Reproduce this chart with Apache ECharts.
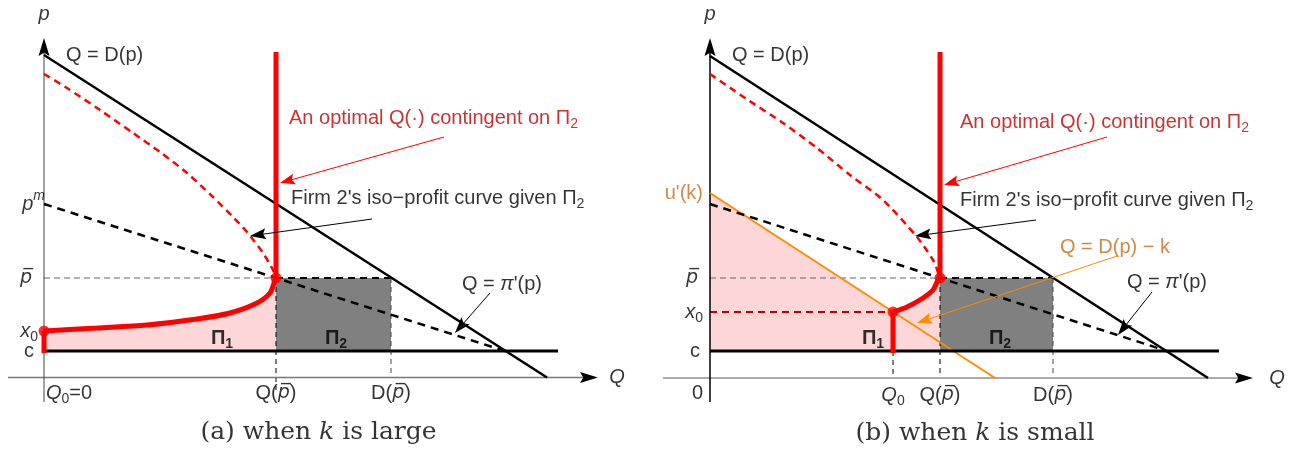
<!DOCTYPE html>
<html>
<head>
<meta charset="utf-8">
<script src="https://cdn.jsdelivr.net/npm/echarts@6/dist/echarts.min.js"></script>
<style>
  html, body { margin: 0; padding: 0; background: #fff; }
  #chart { width: 1305px; height: 452px; }
</style>
</head>
<body>
<div id="chart"></div>
<script>
// ---------- Panel (a): k is large ----------
const aDemand      = [[0, 6.45], [10.06, 0]];                 // Q = D(p)
const aMarginal    = [[0, 3.47], [9.22, 0.53]];               // Q = pi'(p)
const aCost        = [[0, 0.53], [10.28, 0.53]];              // unit cost c
const aIsoProfit   = [[0, 6.07], [0.46, 5.79], [1.12, 5.35], [1.78, 4.89], [2.32, 4.51], [2.86, 4.09],
                      [3.38, 3.61], [3.78, 3.21], [4.06, 2.91], [4.38, 2.49], [4.58, 2.15], [4.64, 1.99]];
const aOptimal     = [[0, 0.93], [1.06, 0.99], [2.06, 1.05], [3.06, 1.17], [3.72, 1.29],
                      [4.26, 1.49], [4.52, 1.69], [4.62, 1.95], [4.64, 1.99]];
const aOptimalTop  = [[4.64, 1.99], [4.64, 6.51]];
const aPriceLevels = [0.53, 0.93, 1.99, 3.47];                // c, x0, p-bar, p^m
const aQtyLevels   = [0, 4.64, 6.94];                         // Q0, Q(p-bar), D(p-bar)

// ---------- Panel (b): k is small ----------
const bDemand      = [[0, 6.44], [9.96, 0]];                  // Q = D(p)
const bShifted     = [[0, 3.70], [5.70, 0]];                  // Q = D(p) - k
const bMarginal    = [[0, 3.48], [9.14, 0.54]];               // Q = pi'(p)
const bCost        = [[0, 0.54], [10.18, 0.54]];
const bIsoProfit   = [[0, 6.08], [0.7, 5.6], [1.46, 5.10], [2.14, 4.6], [2.80, 4.06], [3.46, 3.56],
                      [4.14, 2.82], [4.46, 2.36], [4.58, 2.06], [4.60, 2.00]];
const bOptimal     = [[3.66, 1.32], [3.94, 1.42], [4.26, 1.60], [4.46, 1.76], [4.56, 1.96], [4.60, 2.00]];
const bOptimalTop  = [[4.60, 2.00], [4.60, 6.52]];
const bPriceLevels = [0.54, 1.32, 2.00, 3.70];                // c, x0, p-bar, u'(k)
const bQtyLevels   = [3.66, 4.60, 6.86];                      // Q0, Q(p-bar), D(p-bar)

// axis extents [xmin, xmax, ymin, ymax]
const aExtent = [-0.72, 11.08, -0.49, 6.79];
const bExtent = [-0.94, 10.86, -0.48, 6.80];

const SANS = 'Liberation Sans, Arial, Helvetica, sans-serif';
const SERIF = 'DejaVu Serif, serif';
const RED = '#ff0000', DARKRED = '#bb0000', ORANGE = '#ff8c00', ORANGE_TXT = '#c46c1c';
const PINK = '#fdd7d7', GREY = '#808080';

function richSet(size, color) {
  const s = Math.round(size * 0.68);
  return {
    n:    { color, fontFamily: SANS, fontSize: size },
    i:    { color, fontFamily: SANS, fontSize: size, fontStyle: 'italic' },
    ob:   { color, fontFamily: 'DejaVu Sans', fontSize: size - 1, fontStyle: 'italic' },
    b:    { color, fontFamily: SANS, fontSize: size, fontWeight: 'bold' },
    sub:  { color, fontFamily: SANS, fontSize: s, padding: [Math.round(size * 0.62), 0, 0, 0] },
    bsub: { color, fontFamily: SANS, fontSize: s, fontWeight: 'bold', padding: [Math.round(size * 0.62), 0, 0, 0] },
    sup:  { color, fontFamily: SANS, fontSize: s, fontStyle: 'italic', padding: [0, 0, Math.round(size * 0.75), 0] },
    c:    { color, fontFamily: SERIF, fontSize: 25 },
    ci:   { color, fontFamily: SERIF, fontSize: 25, fontStyle: 'italic' }
  };
}

function line(gi, data, color, width, type, z, smooth) {
  return {
    type: 'line', xAxisIndex: gi, yAxisIndex: gi, data, symbol: 'none', showSymbol: false,
    smooth: smooth || false, silent: true, clip: false, z: z || 3,
    lineStyle: { color, width, type: type || 'solid', cap: 'butt' }
  };
}

function polygon(gi, pts, fill, z) {
  return {
    type: 'custom', xAxisIndex: gi, yAxisIndex: gi, silent: true, clip: false, z: z || 1,
    data: [pts[0]],
    renderItem: (params, api) => ({
      type: 'polygon',
      shape: { points: pts.map(p => api.coord(p)) },
      style: { fill }
    })
  };
}

// arrows: list of [from, to] in data units; head drawn at "to"
function arrows(gi, list, color, width, headLen, headHalf, z, lineColor) {
  return {
    type: 'custom', xAxisIndex: gi, yAxisIndex: gi, silent: true, clip: false, z: z || 6,
    data: list.map(a => [a[0][0], a[0][1], a[1][0], a[1][1]]),
    encode: { x: [0, 2], y: [1, 3] },
    renderItem: (params, api) => {
      const s = api.coord([api.value(0), api.value(1)]);
      const e = api.coord([api.value(2), api.value(3)]);
      const dx = e[0] - s[0], dy = e[1] - s[1], L = Math.hypot(dx, dy);
      const ux = dx / L, uy = dy / L, nx = -uy, ny = ux;
      const bx = e[0] - ux * headLen, by = e[1] - uy * headLen;
      const notch = [e[0] - ux * headLen * 0.82, e[1] - uy * headLen * 0.82];
      return {
        type: 'group',
        children: [
          { type: 'line', shape: { x1: s[0], y1: s[1], x2: e[0] - ux * headLen * 0.7, y2: e[1] - uy * headLen * 0.7 },
            style: { stroke: lineColor || color, lineWidth: width } },
          { type: 'polygon', shape: { points: [e, [bx + nx * headHalf, by + ny * headHalf], notch, [bx - nx * headHalf, by - ny * headHalf]] },
            style: { fill: color } }
        ]
      };
    }
  };
}

function dots(gi, pts) {
  return {
    type: 'scatter', xAxisIndex: gi, yAxisIndex: gi, data: pts, symbolSize: 11, silent: true, clip: false, z: 5,
    itemStyle: { color: RED }
  };
}

function note(gi, pt, text, opt) {
  const o = Object.assign({ align: 'center', color: '#000' }, opt || {});
  return {
    type: 'scatter', xAxisIndex: gi, yAxisIndex: gi, data: [pt], symbolSize: 0, silent: true, clip: false, z: 8,
    itemStyle: { color: 'rgba(0,0,0,0)' },
    label: {
      show: true, position: 'inside', formatter: text, color: o.color, align: o.align,
      fontFamily: SANS, fontSize: 20, verticalAlign: 'middle', rich: richSet(20, o.color)
    }
  };
}

const PBAR = '{ob|p\u0305}';
const QPBAR = '{n|Q(}' + PBAR + '{n|)}';
const DPBAR = '{n|D(}' + PBAR + '{n|)}';

function axes(gi, ext, xColor, xWidth, yColor, yWidth) {
  return [
    arrows(gi, [[[ext[0], 0], [ext[1], 0]]], '#000', xWidth, 18, 5.5, 3, xColor),
    arrows(gi, [[[0, ext[2]], [0, ext[3]]]], '#000', yWidth, 18, 5.5, 3, yColor)
  ];
}

// ---------- Panel (a) series ----------
const [aC, aX0, aPbar, aPm] = aPriceLevels;
const [aQ0, aQpbar, aDpbar] = aQtyLevels;
const seriesA = [
  polygon(0, [[0, aC]].concat(aOptimal, [[aQpbar, aC]]), PINK, 1),
  polygon(0, [[aQpbar, aC], [aQpbar, aPbar], [aDpbar, aPbar], [aDpbar, aC]], GREY, 1),
  ...axes(0, aExtent, '#777', 1.3, '#444', 1),
  line(0, [[0, aPbar], [aQpbar, aPbar]], '#666', 1.2, [6, 4], 2),
  line(0, [[aQpbar, aPbar], [aDpbar, aPbar]], '#000', 2, [7, 5], 2),
  line(0, [[aQpbar, aPbar], [aQpbar, -0.25]], '#000', 1, [5, 4], 2),
  line(0, [[aDpbar, aPbar], [aDpbar, 0]], '#444', 1, [5, 4], 2),
  line(0, aDemand, '#000', 2.5),
  line(0, aMarginal, '#000', 2.5, [8, 6]),
  line(0, aIsoProfit, RED, 2.5, [7, 5], 3, 0.25),
  line(0, aCost, '#000', 3, 'solid', 4),
  line(0, aOptimal, RED, 5, 'solid', 4, 0.3),
  line(0, aOptimalTop, RED, 5, 'solid', 4),
  line(0, [[aQ0, aX0], [aQ0, aC - 0.04]], RED, 5, 'solid', 4),
  dots(0, [[aQ0, aX0], [aQpbar, aPbar]]),
  arrows(0, [[[8.0, 4.81], [4.72, 3.89]]], RED, 1, 15, 5.5, 6),
  arrows(0, [[[6.56, 3.17], [4.12, 2.83]], [[8.92, 1.69], [8.22, 0.89]]], '#000', 1, 16, 5.5, 6),
  note(0, [0, 7.27], '{i|p}'),
  note(0, [11.46, 0], '{i|Q}'),
  note(0, [0.44, 6.45], '{n|Q = D(p)}', { align: 'left' }),
  note(0, [4.9, 5.19], '{n|An optimal Q(·) contingent on Π}{sub|2}', { align: 'left', color: DARKRED }),
  note(0, [4.94, 3.59], '{n|Firm 2\'s iso\u2212profit curve given Π}{sub|2}', { align: 'left' }),
  note(0, [8.36, 1.87], '{n|Q = }{i|π}{n|\'(p)}', { align: 'left' }),
  note(0, [3.56, 0.79], '{b|Π}{bsub|1}'),
  note(0, [5.84, 0.79], '{b|Π}{bsub|2}'),
  note(0, [0.02, aPm], '{i|p}{sup|m}', { align: 'right' }),
  note(0, [-0.24, aPbar], PBAR, { align: 'right' }),
  note(0, [-0.12, aX0], '{i|x}{sub|0}', { align: 'right' }),
  note(0, [-0.2, aC], '{n|c}', { align: 'right' }),
  note(0, [aQ0 + 0.04, -0.31], '{i|Q}{sub|0}{n|=0}', { align: 'left' }),
  note(0, [aQpbar, -0.31], QPBAR),
  note(0, [aDpbar, -0.31], DPBAR),
  note(0, [5.49, -1.1], '{c|(a) when }{ci|k}{c| is large}')
];

// ---------- Panel (b) series ----------
const [bC, bX0, bPbar, bUk] = bPriceLevels;
const [bQ0, bQpbar, bDpbar] = bQtyLevels;
const seriesB = [
  polygon(1, [[0, bC], bShifted[0]].concat(bOptimal, [[bQpbar, bC]]), PINK, 1),
  polygon(1, [[bQpbar, bC], [bQpbar, bPbar], [bDpbar, bPbar], [bDpbar, bC]], GREY, 1),
  ...axes(1, bExtent, '#aaa', 2, '#000', 1.5),
  line(1, [[0, bPbar], [bQpbar, bPbar]], '#666', 1.2, [6, 4], 2),
  line(1, [[bQpbar, bPbar], [bDpbar, bPbar]], '#000', 2, [7, 5], 2),
  line(1, [[bQpbar, bPbar], [bQpbar, 0]], '#000', 1, [5, 4], 2),
  line(1, [[bQ0, bC], [bQ0, 0]], '#000', 1, [5, 4], 2),
  line(1, [[bDpbar, bPbar], [bDpbar, 0]], '#444', 1, [5, 4], 2),
  line(1, [[0, bX0], [bQ0, bX0]], DARKRED, 2, [7, 5], 2),
  line(1, bShifted, ORANGE, 2),
  line(1, bDemand, '#000', 2.5),
  line(1, bMarginal, '#000', 2.5, [8, 6]),
  line(1, bIsoProfit, RED, 2.5, [7, 5], 3, 0.25),
  line(1, bCost, '#000', 3, 'solid', 4),
  line(1, bOptimal, RED, 5, 'solid', 4, 0.3),
  line(1, bOptimalTop, RED, 5, 'solid', 4),
  line(1, [[bQ0, bX0], [bQ0, bC - 0.04]], RED, 5, 'solid', 4),
  dots(1, [[bQ0, bX0], [bQpbar, bPbar]]),
  arrows(1, [[[7.94, 4.82], [4.68, 3.86]]], RED, 1, 15, 5.5, 6),
  arrows(1, [[[8.14, 2.44], [4.14, 1.10]]], ORANGE, 1, 15, 5.5, 6),
  arrows(1, [[[6.52, 3.16], [4.10, 2.84]], [[8.84, 1.72], [8.16, 0.86]]], '#000', 1, 16, 5.5, 6),
  note(1, [0, 7.28], '{i|p}'),
  note(1, [11.34, 0], '{i|Q}'),
  note(1, [0.44, 6.46], '{n|Q = D(p)}', { align: 'left' }),
  note(1, [5.0, 5.12], '{n|An optimal Q(·) contingent on Π}{sub|2}', { align: 'left', color: DARKRED }),
  note(1, [5.0, 3.56], '{n|Firm 2\'s iso\u2212profit curve given Π}{sub|2}', { align: 'left' }),
  note(1, [7.0, 2.62], '{n|Q = D(p) \u2212 k}', { align: 'left', color: ORANGE_TXT }),
  note(1, [8.34, 1.92], '{n|Q = }{i|π}{n|\'(p)}', { align: 'left' }),
  note(1, [3.26, 0.8], '{b|Π}{bsub|1}'),
  note(1, [5.8, 0.8], '{b|Π}{bsub|2}'),
  note(1, [-0.14, bUk], '{n|u\'(k)}', { align: 'right', color: ORANGE_TXT }),
  note(1, [-0.24, bPbar], PBAR, { align: 'right' }),
  note(1, [-0.14, bX0], '{i|x}{sub|0}', { align: 'right' }),
  note(1, [-0.2, bC], '{n|c}', { align: 'right' }),
  note(1, [-0.14, -0.3], '{n|0}', { align: 'right' }),
  note(1, [bQ0, -0.34], '{i|Q}{sub|0}'),
  note(1, [bQpbar, -0.34], QPBAR),
  note(1, [bDpbar, -0.34], DPBAR),
  note(1, [5.3, -1.1], '{c|(b) when }{ci|k}{c| is small}')
];

function valueAxis(gi, min, max) {
  return { type: 'value', gridIndex: gi, min, max, show: false };
}

const chart = echarts.init(document.getElementById('chart'));
chart.setOption({
  animation: false,
  backgroundColor: '#fff',
  grid: [
    { left: 8, top: 38, width: 590, height: 364 },
    { left: 663, top: 38, width: 590, height: 364 }
  ],
  xAxis: [valueAxis(0, aExtent[0], aExtent[1]), valueAxis(1, bExtent[0], bExtent[1])],
  yAxis: [valueAxis(0, aExtent[2], aExtent[3]), valueAxis(1, bExtent[2], bExtent[3])],
  series: seriesA.concat(seriesB)
});
</script>
</body>
</html>
